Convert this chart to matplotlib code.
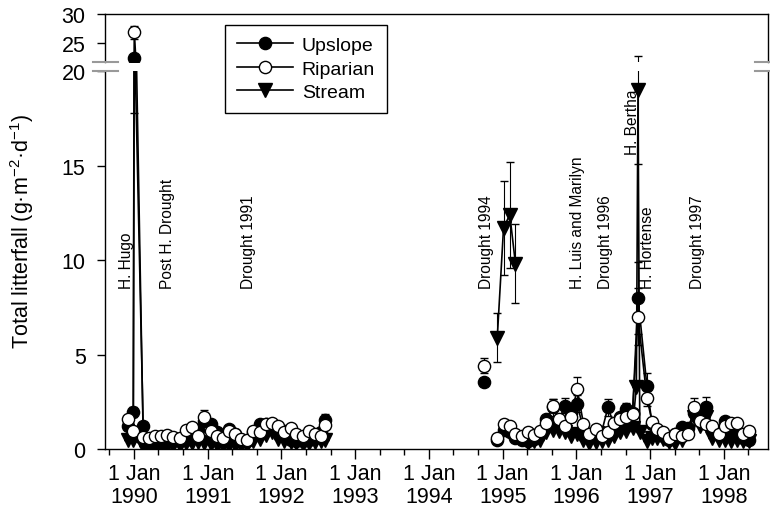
import numpy as np
import pandas as pd
import matplotlib
matplotlib.use("Agg")
import matplotlib.pyplot as plt
import matplotlib.dates as mdates
from matplotlib.lines import Line2D
from matplotlib.ticker import FuncFormatter

plt.rcParams['font.family'] = ['Liberation Sans', 'DejaVu Sans']
plt.rcParams['mathtext.fontset'] = 'custom'
plt.rcParams['mathtext.rm'] = 'Liberation Sans'
plt.rcParams['mathtext.it'] = 'Liberation Sans:italic'

nan = np.nan

# Daty zbiorów opadu liści
dates = [
    # 1989-1992
    '1989-12-01', '1989-12-28', '1990-01-02', '1990-02-15', '1990-03-15', '1990-04-15',
    '1990-05-15', '1990-06-15', '1990-07-15', '1990-08-15', '1990-09-15', '1990-10-15',
    '1990-11-15', '1990-12-15', '1991-01-15', '1991-02-15', '1991-03-15', '1991-04-15',
    '1991-05-15', '1991-06-15', '1991-07-15', '1991-08-15', '1991-09-15', '1991-10-15',
    '1991-11-15', '1991-12-15', '1992-01-15', '1992-02-15', '1992-03-15', '1992-04-15',
    '1992-05-15', '1992-06-15', '1992-07-15', '1992-08-05',
    # 1994-1998
    '1994-10-01', '1994-12-05',
    '1995-01-05', '1995-02-05', '1995-03-05', '1995-04-05', '1995-05-05', '1995-06-05',
    '1995-07-05', '1995-08-05', '1995-09-05', '1995-10-05', '1995-11-05', '1995-12-05',
    '1996-01-05', '1996-02-05', '1996-03-05', '1996-04-05', '1996-05-05', '1996-06-05',
    '1996-07-05', '1996-08-05', '1996-09-05', '1996-10-05',
    '1996-10-24', '1996-11-01', '1996-11-10', '1996-12-15',
    '1997-01-10', '1997-02-05', '1997-03-05', '1997-04-05', '1997-05-05', '1997-06-05',
    '1997-07-05', '1997-08-05', '1997-09-05', '1997-10-05', '1997-11-05', '1997-12-05',
    '1998-01-05', '1998-02-05', '1998-03-05', '1998-04-05', '1998-05-05',
]

upslope = [
    1.2, 1.95, 22.5, 1.2, 0.45, 0.35,
    0.3, 0.35, 0.4, 0.45, 0.5, 0.7,
    1.0, 1.5, 1.3, 0.9, 0.7, 1.05,
    0.8, 0.5, 0.4, 0.9, 1.3, 1.35,
    1.3, 1.0, 0.95, 0.5, 0.4, 0.45,
    0.5, 0.6, 0.9, 1.55,
    3.55, 0.5,
    1.0, 0.9, 0.6, 0.5, 0.45, 0.55, 0.8, 1.6, 2.2, 1.5, 2.3, 1.9,
    2.4, 1.0, 0.6, 0.7, 0.9, 2.2, 1.3, 1.7, 2.1, 1.9,
    nan, 8.0, nan, 3.36,
    1.3, 0.9, 0.7, 0.5, 0.8, 1.15, 1.1, 1.9, 1.6, 2.2, 1.0, 0.9,
    1.5, 1.0, 0.7, 0.6, 0.5,
]

riparian = [
    1.6, 0.95, 26.9, 0.65, 0.6, 0.7,
    0.7, 0.75, 0.65, 0.6, 1.0, 1.15,
    0.7, 1.7, 0.95, 0.7, 0.6, 0.95,
    0.8, 0.55, 0.5, 0.95, 0.9, 1.3,
    1.4, 1.2, 0.9, 1.1, 0.8, 0.7,
    0.95, 0.8, 0.7, 1.25,
    4.4, 0.57,
    1.33, 1.24, 0.8, 0.7, 0.88, 0.75, 0.97, 1.36, 2.3, 1.59, 1.2, 1.68,
    3.18, 1.33, 0.8, 1.06, 0.7, 0.9, 1.4, 1.6, 1.68, 1.86,
    nan, 7.0, nan, 2.7,
    1.45, 1.06, 0.9, 0.6, 0.8, 0.7, 0.8, 2.2, 1.5, 1.3, 1.24, 0.8,
    1.2, 1.4, 1.4, 0.8, 0.97,
]

stream = [
    0.5, 0.5, nan, 0.15, 0.1, 0.1,
    0.1, 0.15, 0.2, 0.2, 0.3, 0.3,
    0.35, 0.3, 0.25, 0.2, 0.15, 0.2,
    0.2, 0.15, 0.2, 0.45, 0.55, 0.75,
    0.9, 0.55, 0.4, 0.35, 0.3, 0.25,
    0.3, 0.35, 0.4, 0.5,
    nan, 5.9,
    11.7, 12.4, 9.8, nan, 0.3, 0.45, 0.5, 0.9, 1.0, 0.95, 0.9, 0.7,
    0.8, 0.5, 0.3, 0.35, 0.4, 0.5, 0.7, 0.9, 0.95, 1.1,
    3.3, 19.0, 0.9, 0.45,
    0.6, 0.6, 0.55, 0.35, 0.3, 0.5, 0.9, 1.7, 1.2, 1.7, 0.6, 0.5,
    0.5, 0.45, 0.5, 0.45, 0.4,
]

# Błąd standardowy (tylko tam, gdzie wąsy wychodzą poza znacznik)
upslope_se = {'1989-12-28': 0.25, '1990-01-02': 4.7, '1990-12-15': 0.2, '1992-08-05': 0.3,
              '1995-09-05': 0.45, '1995-11-05': 0.4, '1996-01-05': 0.45, '1996-06-05': 0.45,
              '1996-09-05': 0.35, '1996-11-01': 1.9, '1996-12-15': 0.65, '1997-10-05': 0.55}
riparian_se = {'1990-01-02': 1.1, '1990-12-15': 0.35, '1994-10-01': 0.4, '1995-09-05': 0.35,
               '1996-01-05': 0.65, '1996-11-01': 1.5, '1996-12-15': 0.4, '1997-08-05': 0.5}
stream_se = {'1994-12-05': 1.3, '1995-01-05': 2.5, '1995-02-05': 2.8, '1995-03-05': 2.1,
             '1996-11-01': 3.9}

# Zdarzenia (huragany, susze)
events = ['H. Hugo', 'Post H. Drought', 'Drought 1991', 'Drought 1994',
          'H. Luis and Marilyn', 'Drought 1996', 'H. Bertha', 'H. Hortense', 'Drought 1997']
event_dates = ['1989-11-22', '1990-06-14', '1991-07-20', '1994-10-12',
               '1996-01-08', '1996-05-22', '1996-10-05', '1996-12-20', '1997-08-25']
event_y = [8.5, 8.5, 8.5, 8.5, 8.5, 8.5, 15.6, 8.5, 8.5]

fig = plt.figure(figsize=(7.7, 5.1), dpi=100)
ax_lo = fig.add_axes([0.1364, 0.1176, 0.861, 0.7412])
ax_hi = fig.add_axes([0.1364, 0.8765, 0.861, 0.0947], sharex=ax_lo)

t = pd.to_datetime(dates)


def draw_series(ax, vals, se, marker, face, ms, z):
    v = np.array(vals, dtype=float)
    e = np.array([se.get(d, 0.0) for d in dates])
    ok = ~np.isnan(v)
    d, v, e = t[ok], v[ok], e[ok]
    # przerwa w linii tam, gdzie nie było pomiarów dłużej niż ~8 tygodni
    step = np.diff(d.values).astype('timedelta64[D]').astype(int)
    cuts = np.where(step > 55)[0] + 1
    for seg in np.split(np.arange(len(v)), cuts):
        ax.errorbar(d[seg], v[seg], yerr=e[seg], color='black', lw=1.2,
                    marker=marker, ms=ms, mfc=face, mec='black', mew=1.0,
                    ecolor='black', elinewidth=0.8, capsize=3, capthick=0.8,
                    zorder=z, clip_on=True)


for ax in (ax_lo, ax_hi):
    draw_series(ax, stream, stream_se, 'v', 'black', 9.5, 3)
    draw_series(ax, upslope, upslope_se, 'o', 'black', 8.8, 4)
    draw_series(ax, riparian, riparian_se, 'o', 'white', 8.8, 5)

ax_lo.set_ylim(0, 20)
ax_lo.set_yticks([0, 5, 10, 15, 20])
ax_hi.set_ylim(21.85, 30)
ax_hi.set_yticks([25, 30])

ax_lo.set_xlim(mdates.date2num(pd.Timestamp('1989-08-10')),
               mdates.date2num(pd.Timestamp('1998-08-07')))
ax_lo.xaxis.set_major_locator(mdates.YearLocator())
ax_lo.xaxis.set_minor_locator(mdates.MonthLocator(bymonth=[1, 5, 9]))
ax_lo.xaxis.set_major_formatter(
    FuncFormatter(lambda v, p: '1 Jan\n%d' % mdates.num2date(v).year))

ax_lo.spines['top'].set_visible(False)
ax_hi.spines['bottom'].set_visible(False)
for ax in (ax_lo, ax_hi):
    for s in ax.spines.values():
        s.set_linewidth(1.0)
    ax.tick_params(axis='y', direction='out', length=6, width=1, pad=8, labelsize=15.5)

ax_hi.tick_params(axis='x', which='both', bottom=False, labelbottom=False)
ax_lo.tick_params(axis='x', which='major', direction='out', length=7, width=1,
                  pad=3, labelsize=15.5)
ax_lo.tick_params(axis='x', which='minor', direction='out', length=4, width=1)
for lab in ax_lo.get_xticklabels():
    lab.set_linespacing(1.15)

# Znaczniki przerwania osi Y
for yb in (63, 72):
    yf = 1 - yb / 510
    fig.add_artist(Line2D([93 / 770, 118 / 770], [yf, yf], color='0.6', lw=1.5))
    fig.add_artist(Line2D([755 / 770, 770 / 770], [yf, yf], color='0.6', lw=1.5))

# Opisy zdarzeń
for name, d, y in zip(events, event_dates, event_y):
    ax_lo.text(mdates.date2num(pd.Timestamp(d)), y, name, rotation=90,
               ha='center', va='bottom', fontsize=11.2, zorder=6)

fig.text(22 / 770, 1 - 232 / 510, 'Total litterfall (g·m$^{-2}$·d$^{-1}$)',
         rotation=90, ha='center', va='center', fontsize=15.5)

handles = [
    Line2D([], [], color='black', lw=1.2, marker='o', ms=8.8, mfc='black', mec='black'),
    Line2D([], [], color='black', lw=1.2, marker='o', ms=8.8, mfc='white', mec='black'),
    Line2D([], [], color='black', lw=1.2, marker='v', ms=9.5, mfc='black', mec='black'),
]
leg = fig.legend(handles, ['Upslope', 'Riparian', 'Stream'], loc='upper left',
                 bbox_to_anchor=(225 / 770, 1 - 26 / 510), fontsize=14,
                 frameon=True, fancybox=False, edgecolor='black', framealpha=1,
                 handlelength=2.9, handletextpad=0.45, labelspacing=0.3,
                 borderpad=0.6, borderaxespad=0)
leg.get_frame().set_linewidth(1.0)
leg.set_zorder(10)

fig.savefig('out.png', dpi=100)
